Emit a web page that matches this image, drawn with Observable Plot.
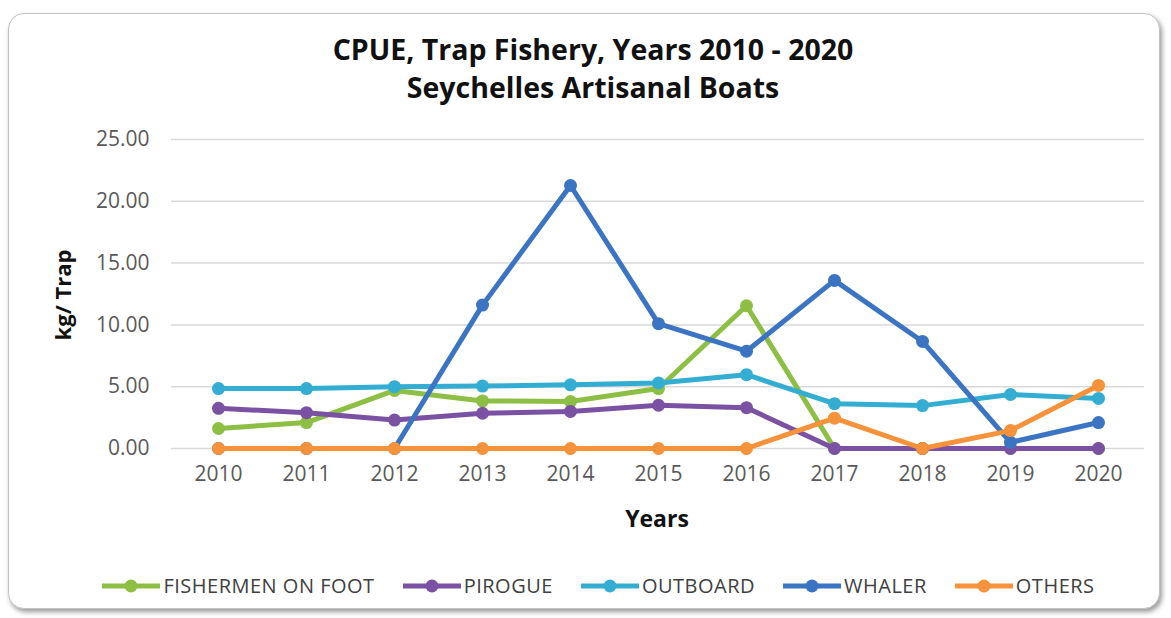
<!DOCTYPE html>
<html>
<head>
<meta charset="utf-8">
<script src="https://cdn.jsdelivr.net/npm/d3@7"></script>
<script src="https://cdn.jsdelivr.net/npm/@observablehq/plot@0.6"></script>
<style>
  html, body { margin: 0; padding: 0; background: #ffffff; }
  #wrap { position: relative; width: 1171px; height: 618px; overflow: hidden; font-family: "Open Sans", sans-serif; }
  #box { position: absolute; left: 8px; top: 13px; width: 1150px; height: 594px; border: 1.5px solid #c4c4c4; border-radius: 16px; box-shadow: 2px 3px 5px rgba(0,0,0,0.4); background: #fff; }
  #title { position: absolute; left: 0; top: 30px; width: 1186px; text-align: center; font-weight: 700; font-size: 28.5px; line-height: 38px; color: #111; }
  #ylab { position: absolute; left: 62px; top: 295px; transform: translate(-50%,-50%) rotate(-90deg); font-weight: 700; font-size: 22px; color: #111; white-space: nowrap; }
  #xlab { position: absolute; left: 657px; top: 518px; transform: translate(-50%,-50%); font-weight: 700; font-size: 23px; color: #111; }
  #legend { position: absolute; left: 0; top: 572px; width: 1197px; display: flex; justify-content: center; gap: 28px; font-size: 20px; color: #404040; letter-spacing: 0.5px; }
  .item { display: flex; align-items: center; gap: 3px; }
  #plot { position: absolute; left: 0; top: 0; }
</style>
</head>
<body>
<div id="wrap">
  <div id="box"></div>
  <div id="plot"></div>
  <div id="title">CPUE, Trap Fishery, Years 2010 - 2020<br>Seychelles Artisanal Boats</div>
  <div id="ylab">kg/ Trap</div>
  <div id="xlab">Years</div>
  <div id="legend"></div>
</div>
<script>
const years = [2010, 2011, 2012, 2013, 2014, 2015, 2016, 2017, 2018, 2019, 2020];
const seriesNames = ["FISHERMEN ON FOOT", "PIROGUE", "OUTBOARD", "WHALER", "OTHERS"];
const seriesColors = ["#8dbf45", "#7b52a3", "#33aed2", "#3b74c2", "#f5923a"];
const fishermenOnFoot = [1.62, 2.1, 4.7, 3.85, 3.8, 4.85, 11.55, 0, 0, 0, 0];
const pirogue = [3.25, 2.9, 2.3, 2.85, 3.0, 3.5, 3.3, 0, 0, 0, 0];
const outboard = [4.85, 4.85, 5.0, 5.05, 5.15, 5.3, 5.97, 3.63, 3.47, 4.37, 4.05];
const whaler = [0, 0, 0, 11.6, 21.28, 10.1, 7.87, 13.6, 8.66, 0.5, 2.1];
const others = [0, 0, 0, 0, 0, 0, 0, 2.45, 0, 1.45, 5.1];
const yTicks = [0, 5, 10, 15, 20, 25];

const seriesValues = [fishermenOnFoot, pirogue, outboard, whaler, others];
const marks = [
  Plot.gridY(yTicks, {stroke: "#d9d9d9", strokeOpacity: 1, strokeWidth: 1.5}),
  Plot.axisY(yTicks, {tickSize: 0, tickPadding: 22, tickFormat: d3.format(".2f"), fontSize: 21, fill: "#595959", label: null}),
  Plot.axisX(years, {tickSize: 0, tickPadding: 18, tickFormat: d => String(d), fontSize: 21, fill: "#595959", label: null})
];
seriesNames.forEach((name, i) => {
  const data = years.map((yr, j) => ({year: yr, value: seriesValues[i][j], series: name}));
  marks.push(Plot.line(data, {x: "year", y: "value", stroke: seriesColors[i], strokeWidth: 5, strokeLinejoin: "round"}));
  marks.push(Plot.dot(data, {x: "year", y: "value", r: 6.5, fill: seriesColors[i], stroke: "none"}));
});

const chart = Plot.plot({
  width: 1171,
  height: 618,
  marginLeft: 171,
  marginRight: 27,
  marginTop: 139,
  marginBottom: 170,
  style: {background: "transparent", fontFamily: "Open Sans, sans-serif"},
  x: {type: "point", domain: years, padding: 0.5, axis: null},
  y: {domain: [0, 25], axis: null},
  marks
});
document.getElementById("plot").appendChild(chart);

const legend = document.getElementById("legend");
seriesNames.forEach((name, i) => {
  const item = document.createElement("div");
  item.className = "item";
  item.innerHTML = `<svg width="58" height="16"><line x1="0" y1="8" x2="58" y2="8" stroke="${seriesColors[i]}" stroke-width="5"/><circle cx="29" cy="8" r="6.5" fill="${seriesColors[i]}"/></svg><span>${name}</span>`;
  legend.appendChild(item);
});
</script>
</body>
</html>
